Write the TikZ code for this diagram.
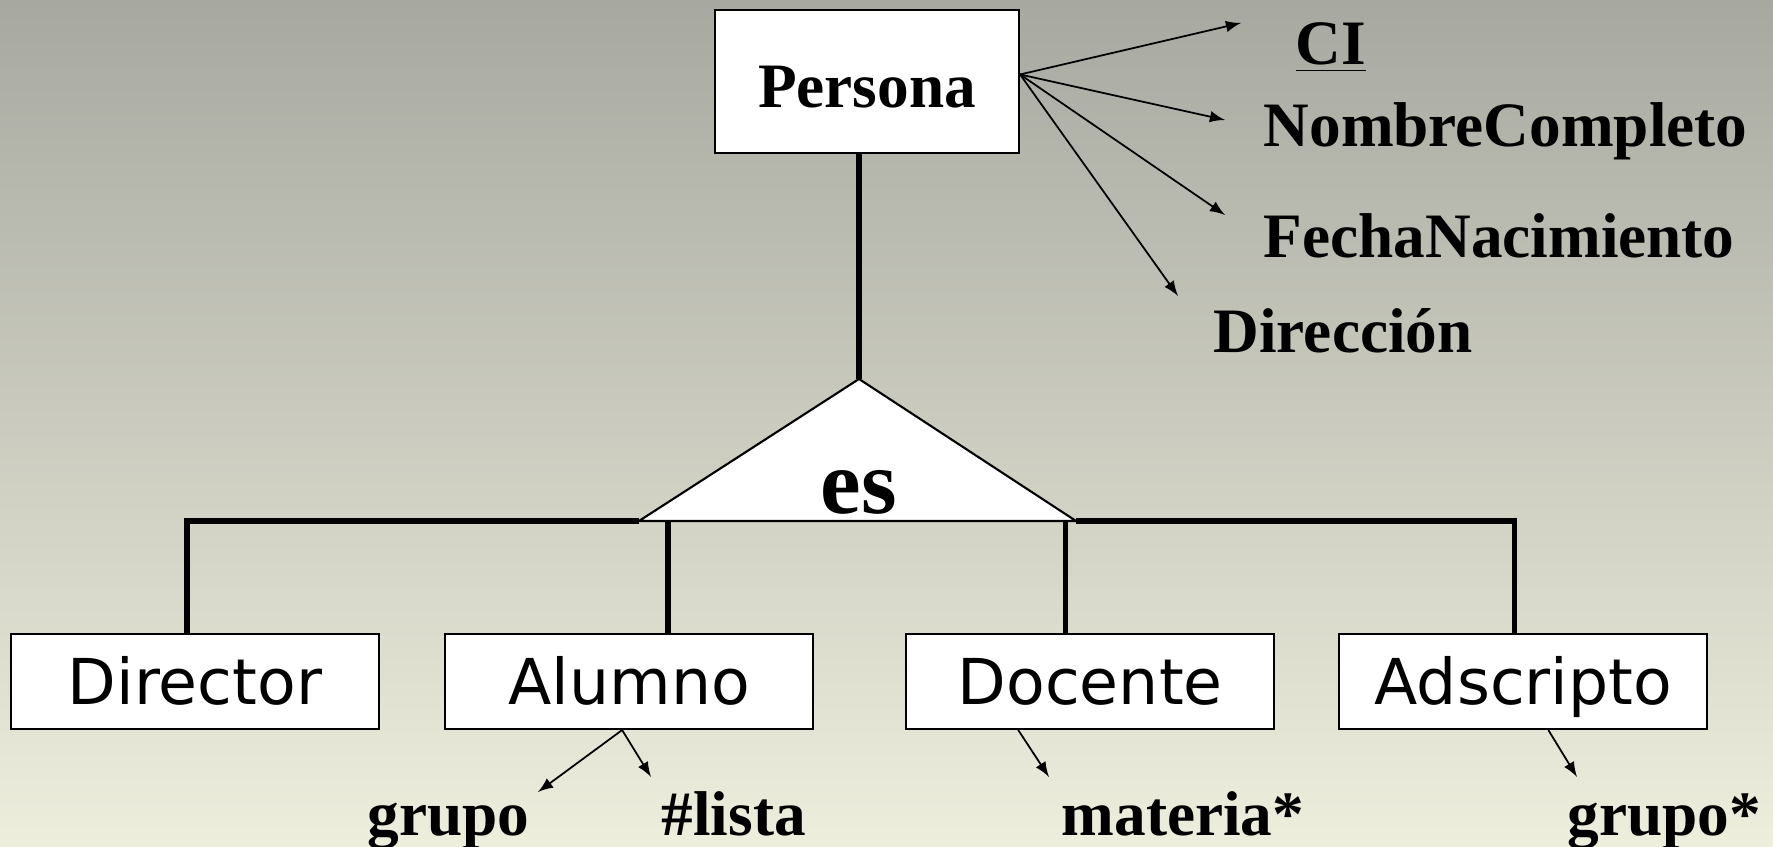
\documentclass[tikz,border=0pt]{standalone}
\usepackage{fontspec}
\setmainfont{Liberation Serif}
\newfontfamily\boxfont{DejaVu Sans}
\usetikzlibrary{arrows, positioning}
\definecolor{bgtop}{RGB}{167,168,160}
\definecolor{bgbottom}{RGB}{238,238,221}
\tikzstyle{entity} = [rectangle, draw, fill=white, line width=0.6pt, minimum width=3.04cm, minimum height=1.43cm, inner sep=0pt, font=\fontsize{18}{20}\selectfont\bfseries, text height=1.5em, text depth=0pt]
\tikzstyle{subentity} = [rectangle, draw, fill=white, line width=0.6pt, minimum width=3.68cm, minimum height=0.95cm, inner sep=0pt, font=\boxfont\fontsize{18}{20}\selectfont, text height=1.45em, text depth=0.16em]
\tikzstyle{attrib} = [anchor=base west, inner sep=0pt, font=\fontsize{18}{20}\selectfont\bfseries]
\tikzstyle{attrarrow} = [line width=0.5pt, ->, >=latex]
\tikzstyle{isa} = [line width=1.5pt]

\begin{document}
\begin{tikzpicture}
  \useasboundingbox (0,0) rectangle (17.73,8.47);
  \shade[top color=bgtop, bottom color=bgbottom] (0,0) rectangle (17.73,8.47);

  % superclass and its attributes
  \node (persona) [entity] at (8.67,7.655) {Persona};
  \node (ci) [attrib] at (12.95,7.82) {\underline{CI}};
  \node (nombre) [attrib] at (12.63,7.00) {NombreCompleto};
  \node (fecha) [attrib] at (12.63,5.89) {FechaNacimiento};
  \node (direc) [attrib] at (12.13,4.94) {Dirección};
  \coordinate (p-out) at ([yshift=0.07cm]persona.east);
  \coordinate (ci-in) at (12.41,8.24);
  \coordinate (nombre-in) at (12.25,7.27);
  \coordinate (fecha-in) at (12.25,6.32);
  \coordinate (direc-in) at (11.78,5.51);
  \draw [attrarrow] (p-out) -- (ci-in);
  \draw [attrarrow] (p-out) -- (nombre-in);
  \draw [attrarrow] (p-out) -- (fecha-in);
  \draw [attrarrow] (p-out) -- (direc-in);

  % is-a triangle
  \coordinate (apex) at (8.59,4.68);
  \coordinate (tl) at (6.39,3.26);
  \coordinate (tr) at (10.76,3.26);
  \draw [isa] (apex |- persona.south) -- (apex);
  \draw [fill=white, line width=0.6pt] (apex) -- (tl) -- (tr) -- cycle;
  \node (es) [anchor=base, inner sep=0pt, font=\fontsize{26}{28}\selectfont\bfseries] at (8.59,3.33) {es};

  % subclasses
  \node (dir) [subentity] at (1.95,1.655) {Director};
  \node (alu) [subentity, right = 0.64cm of dir] {Alumno};
  \node (doc) [subentity, right = 0.91cm of alu] {Docente};
  \node (ads) [subentity, right = 0.63cm of doc] {Adscripto};
  \draw [isa] (tl) -| ([xshift=-0.08cm]dir.north);
  \draw [isa] ([xshift=0.39cm]alu.north |- tl) -- ([xshift=0.39cm]alu.north);
  \draw [isa] ([xshift=-0.25cm]doc.north |- tr) -- ([xshift=-0.25cm]doc.north);
  \draw [isa] (tr) -| ([xshift=-0.09cm]ads.north);

  % subclass attributes
  \node (grupo) [attrib] at (3.67,0.11) {grupo};
  \node (lista) [attrib] at (6.61,0.11) {\#lista};
  \node (materia) [attrib] at (10.61,0.11) {materia*};
  \node (grupoads) [attrib] at (15.67,0.11) {grupo*};
  \coordinate (alu-out) at ([xshift=-0.07cm]alu.south);
  \coordinate (doc-out) at ([xshift=-0.72cm]doc.south);
  \coordinate (ads-out) at ([xshift=0.25cm]ads.south);
  \coordinate (grupo-in) at (5.38,0.55);
  \coordinate (lista-in) at (6.51,0.70);
  \coordinate (materia-in) at (10.49,0.70);
  \coordinate (grupoads-in) at (15.77,0.70);
  \draw [attrarrow] (alu-out) -- (grupo-in);
  \draw [attrarrow] (alu-out) -- (lista-in);
  \draw [attrarrow] (doc-out) -- (materia-in);
  \draw [attrarrow] (ads-out) -- (grupoads-in);
\end{tikzpicture}
\end{document}
